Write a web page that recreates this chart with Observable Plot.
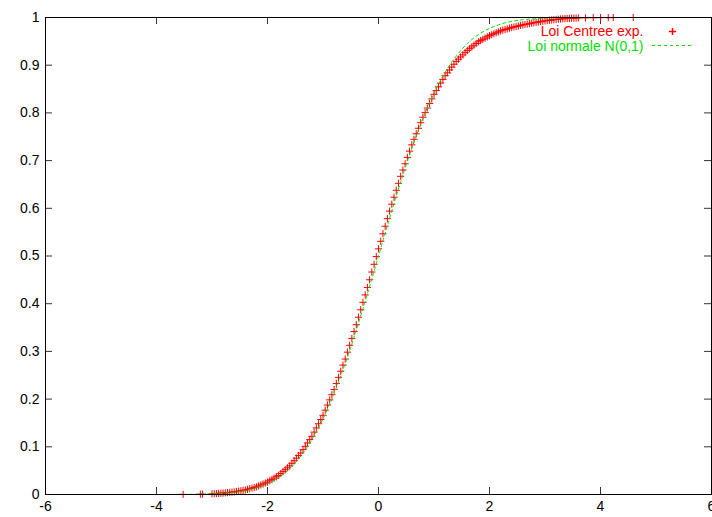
<!DOCTYPE html>
<html>
<head>
<meta charset="utf-8">
<script src="https://cdn.jsdelivr.net/npm/d3@7"></script>
<script src="https://cdn.jsdelivr.net/npm/@observablehq/plot@0.6"></script>
<style>
  html, body { margin: 0; padding: 0; background: #fff; }
  #chart { width: 712px; height: 517px; overflow: hidden; }
</style>
</head>
<body>
<div id="chart"></div>
<script>
const expX = [
  -3.52, -3.21, -3.17,
  -3.00, -2.96, -2.92, -2.88, -2.84, -2.80, -2.76, -2.72, -2.68, -2.64,
  -2.60, -2.56, -2.52, -2.48, -2.44, -2.40, -2.36, -2.32, -2.28, -2.24,
  -2.20, -2.16, -2.12, -2.08, -2.04, -2.00, -1.96, -1.92, -1.88, -1.84,
  -1.80, -1.76, -1.72, -1.68, -1.64, -1.60, -1.56, -1.52, -1.48, -1.44,
  -1.40, -1.36, -1.32, -1.28, -1.24, -1.20, -1.16, -1.12, -1.08, -1.04,
  -1.00, -0.96, -0.92, -0.88, -0.84, -0.80, -0.76, -0.72, -0.68, -0.64,
  -0.60, -0.56, -0.52, -0.48, -0.44, -0.40, -0.36, -0.32, -0.28, -0.24,
  -0.20, -0.16, -0.12, -0.08, -0.04, 0.00, 0.04, 0.08, 0.12, 0.16,
  0.20, 0.24, 0.28, 0.32, 0.36, 0.40, 0.44, 0.48, 0.52, 0.56,
  0.60, 0.64, 0.68, 0.72, 0.76, 0.80, 0.84, 0.88, 0.92, 0.96,
  1.00, 1.04, 1.08, 1.12, 1.16, 1.20, 1.24, 1.28, 1.32, 1.36,
  1.40, 1.44, 1.48, 1.52, 1.56, 1.60, 1.64, 1.68, 1.72, 1.76,
  1.80, 1.84, 1.88, 1.92, 1.96, 2.00, 2.04, 2.08, 2.12, 2.16,
  2.20, 2.24, 2.28, 2.32, 2.36, 2.40, 2.44, 2.48, 2.52, 2.56,
  2.60, 2.64, 2.68, 2.72, 2.76, 2.80, 2.84, 2.88, 2.92, 2.96,
  3.00, 3.04, 3.08, 3.12, 3.16, 3.20, 3.24, 3.28, 3.32, 3.36,
  3.40, 3.44, 3.48, 3.52, 3.56, 3.60,
  3.73, 3.87, 4.00, 4.14, 4.23, 4.59
];
const expY = [
  0.0003, 0.0006, 0.0008,
  0.0015, 0.0018, 0.0021, 0.0024, 0.0027, 0.0030, 0.0035, 0.0040, 0.0045, 0.0050,
  0.0055, 0.0063, 0.0071, 0.0079, 0.0087, 0.0095, 0.0108, 0.0121, 0.0134, 0.0147,
  0.0160, 0.0180, 0.0200, 0.0220, 0.0240, 0.0260, 0.0288, 0.0316, 0.0344, 0.0372,
  0.0400, 0.0440, 0.0480, 0.0520, 0.0560, 0.0600, 0.0654, 0.0708, 0.0762, 0.0816,
  0.0870, 0.0940, 0.1010, 0.1080, 0.1150, 0.1220, 0.1308, 0.1396, 0.1484, 0.1572,
  0.1660, 0.1768, 0.1876, 0.1984, 0.2092, 0.2200, 0.2328, 0.2456, 0.2584, 0.2712,
  0.2840, 0.2984, 0.3128, 0.3272, 0.3416, 0.3560, 0.3716, 0.3872, 0.4028, 0.4184,
  0.4340, 0.4502, 0.4664, 0.4826, 0.4988, 0.5150, 0.5308, 0.5466, 0.5624, 0.5782,
  0.5940, 0.6086, 0.6232, 0.6378, 0.6524, 0.6670, 0.6802, 0.6934, 0.7066, 0.7198,
  0.7330, 0.7446, 0.7562, 0.7678, 0.7794, 0.7910, 0.8006, 0.8102, 0.8198, 0.8294,
  0.8390, 0.8468, 0.8546, 0.8624, 0.8702, 0.8780, 0.8840, 0.8900, 0.8960, 0.9020,
  0.9080, 0.9126, 0.9172, 0.9218, 0.9264, 0.9310, 0.9346, 0.9382, 0.9418, 0.9454,
  0.9490, 0.9516, 0.9542, 0.9568, 0.9594, 0.9620, 0.9640, 0.9660, 0.9680, 0.9700,
  0.9720, 0.9734, 0.9748, 0.9762, 0.9776, 0.9790, 0.9801, 0.9812, 0.9823, 0.9834,
  0.9845, 0.9854, 0.9863, 0.9872, 0.9881, 0.9890, 0.9898, 0.9906, 0.9914, 0.9922,
  0.9930, 0.9936, 0.9942, 0.9948, 0.9954, 0.9960, 0.9964, 0.9968, 0.9972, 0.9976,
  0.9980, 0.9982, 0.9984, 0.9986, 0.9988, 0.9990,
  0.9992, 0.9994, 0.9996, 0.9997, 0.9998, 1.0000
];

// Normal N(0,1) CDF — tabulated values
const normX = [-6, -5, -4.0, -3.8, -3.6, -3.4, -3.2, -3.0, -2.8, -2.6, -2.4, -2.2, -2.0,
  -1.8, -1.6, -1.4, -1.2, -1.0, -0.8, -0.6, -0.4, -0.2, 0.0, 0.2, 0.4, 0.6, 0.8,
  1.0, 1.2, 1.4, 1.6, 1.8, 2.0, 2.2, 2.4, 2.6, 2.8, 3.0, 3.2, 3.4, 3.6, 3.8, 4.0, 5, 6];
const normY = [0, 0, 0.0000, 0.0001, 0.0002, 0.0003, 0.0007, 0.0013, 0.0026, 0.0047, 0.0082, 0.0139, 0.0228,
  0.0359, 0.0548, 0.0808, 0.1151, 0.1587, 0.2119, 0.2743, 0.3446, 0.4207, 0.5, 0.5793, 0.6554, 0.7257, 0.7881,
  0.8413, 0.8849, 0.9192, 0.9452, 0.9641, 0.9772, 0.9861, 0.9918, 0.9953, 0.9974, 0.9987, 0.9993, 0.9997, 0.9998, 0.9999, 1.0, 1, 1];

const xTicks = [-6, -4, -2, 0, 2, 4, 6];
const yTicks = [0, 0.1, 0.2, 0.3, 0.4, 0.5, 0.6, 0.7, 0.8, 0.9, 1];
const seriesNames = ["Loi Centree exp.", "Loi normale N(0,1)"];

const RED = "#ff0000";
const GREEN = "#00e000";

const expData = expX.map((x, i) => ({x, y: expY[i]}));
const normData = normX.map((x, i) => ({x, y: normY[i]}));

const plusSymbol = {
  draw(ctx, size) {
    const h = Math.sqrt(size / Math.PI);
    ctx.moveTo(-h, 0); ctx.lineTo(h, 0);
    ctx.moveTo(0, -h); ctx.lineTo(0, h);
  }
};

const W = 712, H = 517, ML = 45, MR = 1, MT = 17, MB = 23;
const PW = W - ML - MR, PH = H - MT - MB, TICK = 7;

const chart = Plot.plot({
  width: W, height: H,
  marginLeft: ML, marginRight: MR, marginTop: MT, marginBottom: MB,
  style: {fontFamily: "'Liberation Sans', Arial, sans-serif", fontSize: "14px", color: "#000", background: "#fff", overflow: "visible"},
  x: {domain: [-6, 6], ticks: xTicks, tickFormat: d => String(d)},
  y: {domain: [0, 1], ticks: yTicks, tickFormat: d => String(d)},
  marks: [
    Plot.axisX({ticks: xTicks, tickSize: 0, tickPadding: 7, tickFormat: d => String(d), label: null, fontSize: 14}),
    Plot.axisY({ticks: yTicks, tickSize: 0, tickPadding: 6, tickFormat: d => String(d), label: null, fontSize: 14}),
    // inward ticks, mirrored
    Plot.tickX(xTicks, {x: d => d, insetTop: PH - TICK, stroke: "#333"}),
    Plot.tickX(xTicks, {x: d => d, insetBottom: PH - TICK, stroke: "#333"}),
    Plot.tickY(yTicks, {y: d => d, insetRight: PW - TICK, stroke: "#333"}),
    Plot.tickY(yTicks, {y: d => d, insetLeft: PW - TICK, stroke: "#333"}),
    // data
    Plot.dot(expData, {x: "x", y: "y", symbol: plusSymbol, r: 3.6, stroke: RED, fill: "none", strokeWidth: 1}),
    Plot.line(normData, {x: "x", y: "y", stroke: GREEN, strokeWidth: 1, strokeDasharray: "3,3", curve: "monotone-x"}),
    // legend
    Plot.text([seriesNames[0]], {frameAnchor: "top-right", dx: -68, dy: 14, text: d => d, fill: RED, textAnchor: "end", lineAnchor: "middle", fontSize: 14}),
    Plot.text([seriesNames[1]], {frameAnchor: "top-right", dx: -68, dy: 29, text: d => d, fill: GREEN, textAnchor: "end", lineAnchor: "middle", fontSize: 14}),
    Plot.dot([seriesNames[0]], {frameAnchor: "top-right", dx: -39, dy: 14, symbol: plusSymbol, r: 3.6, stroke: RED, fill: "none"}),
    Plot.ruleY([1], {dy: 28, insetLeft: PW - 59, insetRight: 18, stroke: GREEN, strokeDasharray: "3,3"}),
    Plot.frame({stroke: "#000", strokeWidth: 1})
  ]
});
document.getElementById("chart").appendChild(chart);
</script>
</body>
</html>
